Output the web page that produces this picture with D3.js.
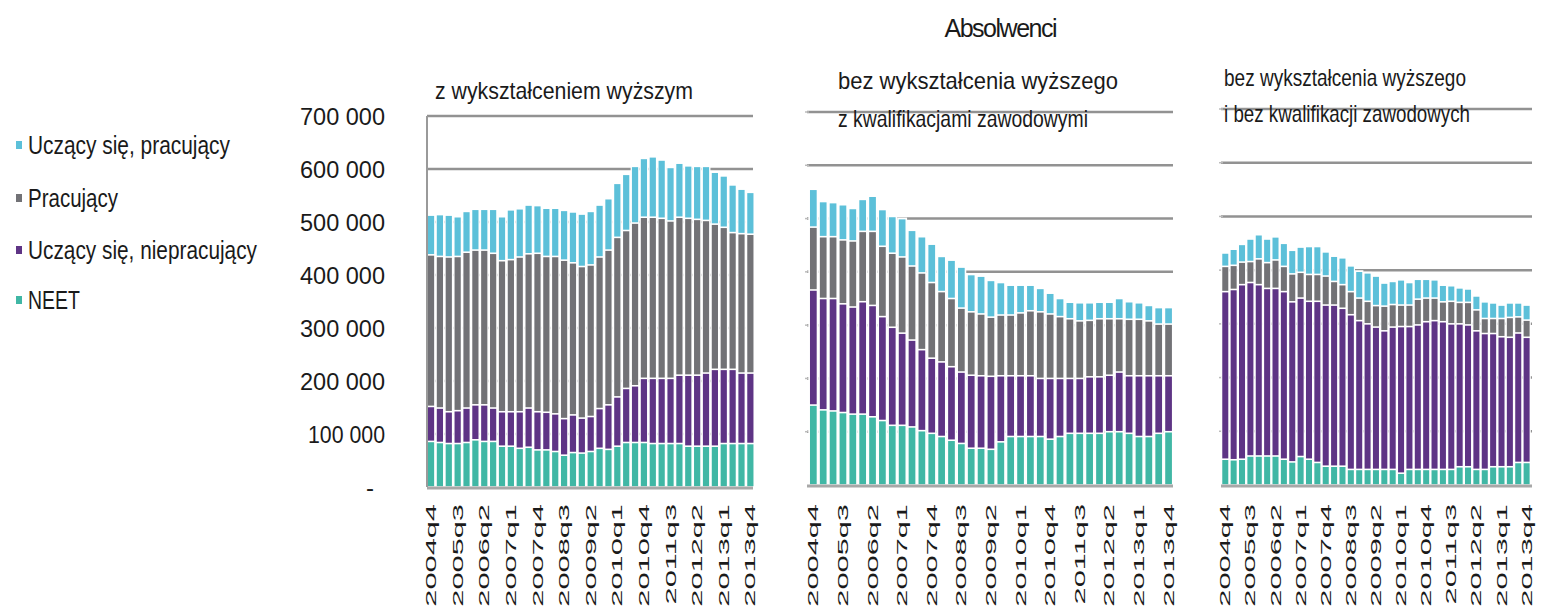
<!DOCTYPE html>
<html>
<head>
<meta charset="utf-8">
<script src="https://cdn.jsdelivr.net/npm/d3@7"></script>
<style>
  body { margin: 0; background: #fff; }
  text { font-family: "Liberation Sans Narrow", "Liberation Sans", Arial, sans-serif; fill: #1a1a1a; }
</style>
</head>
<body>
<div id="chart"></div>
<script>
// Step 1: data
//= ================================
var quarters = [
  "2004q4",
  "2005q1", "2005q2", "2005q3", "2005q4",
  "2006q1", "2006q2", "2006q3", "2006q4",
  "2007q1", "2007q2", "2007q3", "2007q4",
  "2008q1", "2008q2", "2008q3", "2008q4",
  "2009q1", "2009q2", "2009q3", "2009q4",
  "2010q1", "2010q2", "2010q3", "2010q4",
  "2011q1", "2011q2", "2011q3", "2011q4",
  "2012q1", "2012q2", "2012q3", "2012q4",
  "2013q1", "2013q2", "2013q3", "2013q4"
];

var seriesNames = ["Uczący się, pracujący", "Pracujący", "Uczący się, niepracujący", "NEET"];
var seriesColors = ["#5cc0d9", "#727276", "#5e3485", "#40b7a5"];

var panelTitles = [
  ["z wykształceniem wyższym"],
  ["bez wykształcenia wyższego", "z kwalifikacjami zawodowymi"],
  ["bez wykształcenia wyższego", "i bez kwalifikacji zawodowych"]
];
var mainTitle = "Absolwenci";

var yTicks = [0, 100000, 200000, 300000, 400000, 500000, 600000, 700000];
var yTickLabels = ["-", "100 000", "200 000", "300 000", "400 000", "500 000", "600 000", "700 000"];

// values in thousands
// panel 1: z wykształceniem wyższym
var p1Neet = [86, 84, 82, 82, 84, 89, 86, 86, 77, 77, 73, 75, 70, 70, 67, 60, 65, 64, 67, 73, 71, 77, 84, 84, 84, 82, 82, 82, 82, 77, 77, 77, 77, 82, 82, 82, 82];
var p1UczNieprac = [66, 65, 60, 62, 65, 66, 69, 63, 65, 65, 69, 74, 72, 71, 71, 69, 71, 66, 66, 75, 84, 93, 102, 107, 121, 123, 123, 123, 129, 134, 134, 138, 145, 140, 140, 133, 133];
var p1Prac = [286, 286, 292, 291, 294, 292, 292, 292, 285, 287, 292, 291, 299, 294, 297, 299, 287, 286, 286, 286, 292, 301, 298, 307, 304, 304, 302, 297, 298, 296, 294, 288, 274, 268, 258, 263, 262];
var p1UczPrac = [75, 79, 79, 75, 77, 77, 77, 83, 83, 94, 91, 92, 90, 91, 91, 94, 96, 99, 101, 98, 97, 102, 106, 107, 111, 114, 110, 101, 102, 99, 100, 102, 98, 97, 90, 84, 79];

// panel 2: bez wyższego, z kwalifikacjami
var p2Neet = [150, 141, 139, 136, 133, 133, 128, 121, 112, 112, 109, 102, 97, 91, 84, 78, 69, 69, 67, 81, 91, 91, 91, 91, 86, 91, 97, 97, 97, 97, 100, 100, 97, 91, 91, 97, 100];
var p2UczNieprac = [216, 209, 211, 204, 201, 211, 209, 195, 184, 173, 163, 152, 141, 140, 138, 134, 137, 136, 137, 124, 114, 114, 114, 109, 114, 109, 103, 103, 106, 106, 106, 112, 108, 114, 114, 108, 105];
var p2Prac = [118, 116, 116, 120, 124, 132, 139, 132, 139, 143, 139, 144, 142, 132, 128, 120, 119, 116, 111, 114, 114, 118, 122, 125, 121, 116, 112, 108, 106, 109, 106, 100, 106, 106, 103, 97, 97];
var p2UczPrac = [71, 66, 64, 66, 61, 60, 66, 69, 69, 72, 67, 68, 72, 66, 72, 77, 70, 71, 69, 61, 56, 52, 48, 44, 39, 34, 31, 34, 33, 31, 31, 38, 33, 31, 29, 31, 31];

// panel 3: bez wyższego, bez kwalifikacji
var p3Neet = [48, 47, 48, 54, 54, 54, 54, 48, 43, 53, 48, 42, 35, 35, 35, 29, 29, 29, 29, 29, 29, 22, 29, 29, 29, 29, 29, 29, 34, 34, 29, 29, 34, 34, 34, 42, 42];
var p3UczNieprac = [312, 317, 325, 323, 319, 312, 312, 312, 298, 295, 294, 300, 300, 300, 294, 288, 277, 271, 265, 258, 265, 273, 266, 269, 275, 277, 275, 271, 266, 264, 258, 253, 248, 242, 241, 241, 233];
var p3Prac = [47, 45, 42, 39, 48, 48, 53, 47, 52, 48, 50, 50, 54, 44, 44, 43, 42, 42, 40, 46, 42, 40, 40, 48, 44, 42, 37, 42, 40, 42, 39, 28, 28, 34, 37, 30, 32];
var p3UczPrac = [25, 30, 33, 42, 45, 44, 43, 43, 44, 47, 52, 52, 45, 47, 50, 48, 50, 53, 55, 43, 43, 47, 42, 37, 35, 34, 31, 29, 27, 25, 26, 31, 29, 25, 27, 26, 28];

// Step 2: layout
//= ================================
var svgWidth = 1546;
var svgHeight = 610;

var panels = [
  { series: [p1UczPrac, p1Prac, p1UczNieprac, p1Neet], x0: 426.6, x1: 754.8, y0: 487, y1: 116, pad: 0.3,
    titleX: 435, titleY: [99], titleLen: [258], gridX0: 427, gridX1: 753 },
  { series: [p2UczPrac, p2Prac, p2UczNieprac, p2Neet], x0: 808.4, x1: 1173.5, y0: 485, y1: 112, pad: 0.32,
    titleX: 838, titleY: [89, 127], titleLen: [280, 250], gridX0: 807, gridX1: 1173 },
  { series: [p3UczPrac, p3Prac, p3UczNieprac, p3Neet], x0: 1221.1, x1: 1530.8, y0: 485, y1: 109, pad: 0.28,
    titleX: 1224, titleY: [86, 122], titleLen: [242, 246], gridX0: 1221, gridX1: 1532 }
];

var svg = d3.select("#chart")
  .append("svg")
  .attr("width", svgWidth)
  .attr("height", svgHeight);

// main title
svg.append("text")
  .attr("x", 1001)
  .attr("y", 37)
  .attr("text-anchor", "middle")
  .attr("font-size", 25)
  .attr("textLength", 113)
  .text(mainTitle);

// legend
var legendY = [145, 198, 250, 300];
var legendLen = [202, 90, 229, 52];
var legend = svg.append("g");
seriesNames.forEach(function(name, i) {
  legend.append("rect")
    .attr("x", 16)
    .attr("y", legendY[i] - 4)
    .attr("width", 6)
    .attr("height", 8)
    .attr("fill", seriesColors[i]);
  legend.append("text")
    .attr("x", 28)
    .attr("y", legendY[i] + 9)
    .attr("font-size", 25)
    .attr("textLength", legendLen[i])
    .attr("lengthAdjust", "spacingAndGlyphs")
    .text(name);
});

var keys = ["uczPrac", "prac", "uczNieprac", "neet"];

panels.forEach(function(p, pi) {
  var rows = quarters.map(function(q, i) {
    var row = { q: q };
    keys.forEach(function(k, j) { row[k] = p.series[j][i] * 1000; });
    return row;
  });

  // stack bottom-up: NEET, uczNieprac, prac, uczPrac
  var stack = d3.stack().keys(["neet", "uczNieprac", "prac", "uczPrac"]);
  var layers = stack(rows);

  var x = d3.scaleBand()
    .domain(quarters)
    .range([p.x0, p.x1])
    .paddingInner(p.pad)
    .paddingOuter(p.pad / 2);

  var y = d3.scaleLinear()
    .domain([0, 700000])
    .range([p.y0, p.y1]);

  var g = svg.append("g");

  // gridlines
  g.selectAll(".grid")
    .data(yTicks.slice(1))
    .enter()
    .append("line")
    .attr("x1", p.gridX0)
    .attr("x2", p.gridX1)
    .attr("y1", d => y(d))
    .attr("y2", d => y(d))
    .attr("stroke", "#929292")
    .attr("stroke-width", 2.5);

  // small left ticks (panels 2, 3)
  if (pi > 0) {
    g.selectAll(".ltick")
      .data(yTicks.slice(1))
      .enter()
      .append("line")
      .attr("x1", p.gridX0 - 2)
      .attr("x2", p.gridX0 + 2)
      .attr("y1", d => y(d))
      .attr("y2", d => y(d))
      .attr("stroke", "#bbb")
      .attr("stroke-width", 1.5);
  }

  // white backing so gaps between bars hide gridlines
  var step = x.step();
  g.selectAll(".back")
    .data(rows)
    .enter()
    .append("rect")
    .attr("x", d => x(d.q) + x.bandwidth() / 2 - step / 2)
    .attr("width", step)
    .attr("y", d => y(d.neet + d.uczNieprac + d.prac + d.uczPrac) - 1)
    .attr("height", d => y(0) - y(d.neet + d.uczNieprac + d.prac + d.uczPrac) + 1)
    .attr("fill", "#fff");

  var colorByKey = { uczPrac: seriesColors[0], prac: seriesColors[1], uczNieprac: seriesColors[2], neet: seriesColors[3] };

  g.selectAll(".layer")
    .data(layers)
    .enter()
    .append("g")
    .attr("fill", d => colorByKey[d.key])
    .selectAll("rect")
    .data(d => d)
    .enter()
    .append("rect")
    .attr("x", d => x(d.data.q))
    .attr("width", x.bandwidth())
    .attr("y", d => y(d[1]) + 0.8)
    .attr("height", d => Math.max(0, y(d[0]) - y(d[1]) - 1.6));

  // baseline
  g.append("line")
    .attr("x1", p.gridX0)
    .attr("x2", p.gridX1)
    .attr("y1", y(0) + 1)
    .attr("y2", y(0) + 1)
    .attr("stroke", "#a8a8a8")
    .attr("stroke-width", 3);

  // left axis only on the first panel
  if (pi === 0) {
    g.append("line")
      .attr("x1", p.gridX0)
      .attr("x2", p.gridX0)
      .attr("y1", y(700000))
      .attr("y2", y(0))
      .attr("stroke", "#9a9a9a")
      .attr("stroke-width", 2);

    g.selectAll(".ylab")
      .data(yTicks)
      .enter()
      .append("text")
      .attr("x", (d, i) => i === 0 ? 374 : 385)
      .attr("y", d => y(d))
      .attr("dy", "0.36em")
      .attr("text-anchor", "end")
      .attr("font-size", 24)
      .attr("textLength", (d, i) => i === 0 ? null : (i === 1 ? 77 : 85))
      .attr("lengthAdjust", "spacingAndGlyphs")
      .text((d, i) => yTickLabels[i]);
  }

  // x labels, every third quarter
  g.selectAll(".xlab")
    .data(quarters.filter((q, i) => i % 3 === 0))
    .enter()
    .append("text")
    .attr("transform", d => `translate(${x(d) + x.bandwidth() / 2}, 504) rotate(-90) scale(2.2, 1)`)
    .attr("dy", "0.36em")
    .attr("text-anchor", "end")
    .attr("font-size", 14)
    .attr("font-family", "Liberation Sans, Arial, sans-serif")
    .text(d => d);

  // panel titles
  panelTitles[pi].forEach(function(line, li) {
    g.append("text")
      .attr("x", p.titleX)
      .attr("y", p.titleY[li])
      .attr("font-size", 24)
      .attr("textLength", p.titleLen[li])
      .attr("lengthAdjust", "spacingAndGlyphs")
      .text(line);
  });
});
</script>
</body>
</html>
